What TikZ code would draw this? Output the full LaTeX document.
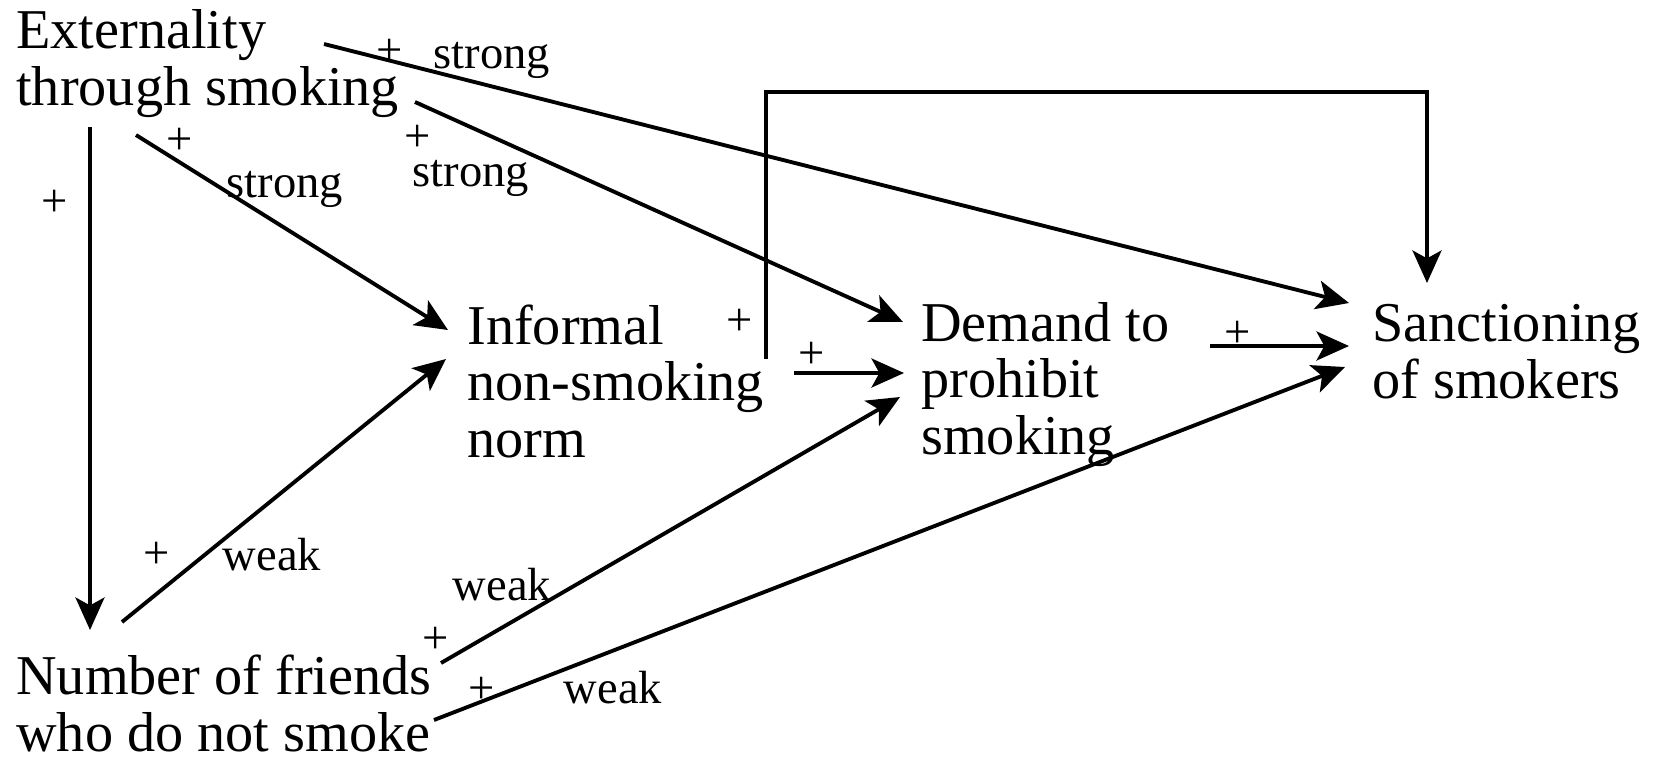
\documentclass[tikz,border=0pt]{standalone}
\usepackage{fontspec}
\setmainfont{Liberation Serif}
\usetikzlibrary{arrows.meta}

\begin{document}
\begin{tikzpicture}[x=0.02cm,y=-0.02cm,
  txt/.style={anchor=base west,inner sep=0pt,align=left,text depth=0pt,font=\fontsize{32}{32}\selectfont},
  lbl/.style={anchor=base,inner sep=0pt,font=\fontsize{26.5}{26.5}\selectfont},
  pls/.style={inner sep=0pt,font=\fontsize{26.5}{26.5}\selectfont},
  arrw/.style={black,line width=2.2pt,-{Stealth[length=18.5pt,width=16.5pt,inset=4.5pt]}}]

\useasboundingbox (0,0) rectangle (1654,758);

% the five variables (placed at the baseline of their last line)
\node [txt] (ext) at (16,105) {Externality\\through smoking};
\node [txt] (fri) at (16,751) {Number of friends\\who do not smoke};
\node [txt] (inf) at (467,457) {Informal\\non-smoking\\norm};
\node [txt] (dem) at (921,454) {Demand to\\prohibit\\smoking};
\node [txt] (san) at (1372,398) {Sanctioning\\of smokers};

% effects of the externality
\draw[arrw] ([shift={(74,22)}]ext.base west) -- ([shift={(74,-121)}]fri.base west);
\draw[arrw] ([shift={(120,30)}]ext.base west) -- ([shift={(-19,-127)}]inf.base west);
\draw[arrw] ([shift={(399,-3)}]ext.base west) -- ([shift={(-18,-132)}]dem.base west);
\draw[arrw] ([shift={(308,-61)}]ext.base west) -- ([shift={(-23,-95)}]san.base west);

% effects of the norm and the demand
\draw[arrw] ([shift={(299,-98)}]inf.base west) -- ++(0,-267) -| ([shift={(55,-115)}]san.base west);
\draw[arrw] ([shift={(327,-84)}]inf.base west) -- ([shift={(-17,-81)}]dem.base west);
\draw[arrw] ([shift={(289,-108)}]dem.base west) -- ([shift={(-23,-52)}]san.base west);

% effects of the friends
\draw[arrw] ([shift={(106,-129)}]fri.base west) -- ([shift={(-21,-98)}]inf.base west);
\draw[arrw] ([shift={(425,-88)}]fri.base west) -- ([shift={(-21,-57)}]dem.base west);
\draw[arrw] ([shift={(418,-31)}]fri.base west) -- ([shift={(-27,-31)}]san.base west);

% signs
\node [pls] (pa) at (55,203) {+};
\node [pls] (pb) at (180,141) {+};
\node [pls] (pc) at (418,138) {+};
\node [pls] (pd) at (390,52) {+};
\node [pls] (pe) at (740,322) {+};
\node [pls] (pf) at (812,355) {+};
\node [pls] (pg) at (1238,334) {+};
\node [pls] (ph) at (157,555) {+};
\node [pls] (pi) at (436,640) {+};
\node [pls] (pj) at (482,690) {+};

% strengths
\node [lbl] (sb) at (285,197) {strong};
\node [lbl] (sc) at (471,186) {strong};
\node [lbl] (sd) at (492,68) {strong};
\node [lbl] (wh) at (272,570) {weak};
\node [lbl] (wi) at (502,600) {weak};
\node [lbl] (wj) at (613,703) {weak};

\end{tikzpicture}
\end{document}
